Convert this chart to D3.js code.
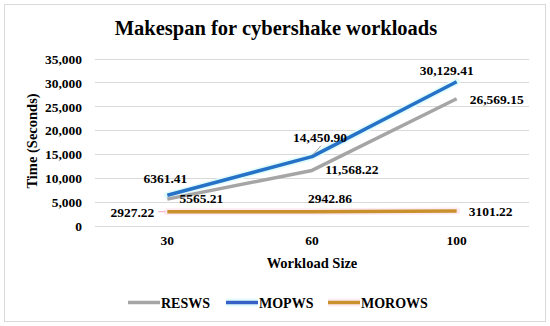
<!DOCTYPE html>
<html>
<head>
<meta charset="utf-8">
<script src="https://cdn.jsdelivr.net/npm/d3@7"></script>
<style>
  body { margin: 0; background: #fff; }
  svg text { font-family: "Liberation Serif", "Times New Roman", serif; font-weight: bold; fill: #000; }
</style>
</head>
<body>
<div id="chart"></div>
<script>
// data
var workloads = ["30", "60", "100"];
var seriesNames = ["RESWS", "MOPWS", "MOROWS"];
var resws = [5565.21, 11568.22, 26569.15];
var mopws = [6361.41, 14450.90, 30129.41];
var morows = [2927.22, 2942.86, 3101.22];
var yTicks = [0, 5000, 10000, 15000, 20000, 25000, 30000, 35000];

var W = 550, H = 326;
var plot = {left: 95, right: 529, top: 58.5, bottom: 225.7};

// colours and where each data label sits relative to its point (dx, dy)
var colors = ["#a5a5a5", "#2672c6", "#c8912c"];
var glows = [null, "#e2fcfc", "#fdeaf3"];
var labelOffsets = [
  [[34, 4], [40, 4], [40, 5]],
  [[-2, -12], [8, -15], [-10, -7]],
  [[-35, 5], [18, -9], [34, 5]]
];

var seriesData = [resws, mopws, morows];

var svg = d3.select("#chart").append("svg")
    .attr("width", W)
    .attr("height", H);

svg.append("rect")
    .attr("x", 4.5).attr("y", 4.5)
    .attr("width", 541).attr("height", 317)
    .attr("fill", "#fff")
    .attr("stroke", "#d9d9d9");

var x = d3.scaleBand()
    .domain(workloads)
    .range([plot.left, plot.right]);

var y = d3.scaleLinear()
    .domain([0, 35000])
    .range([plot.bottom, plot.top]);

// gridlines
svg.append("g")
  .selectAll("line")
  .data(yTicks)
  .enter().append("line")
    .attr("x1", plot.left).attr("x2", plot.right)
    .attr("y1", d => Math.round(y(d)) + 0.5)
    .attr("y2", d => Math.round(y(d)) + 0.5)
    .attr("stroke", "#d9d9d9");

// y axis labels
var yAxis = svg.append("g")
    .attr("transform", "translate(" + plot.left + ",0)")
    .call(d3.axisLeft(y).tickValues(yTicks).tickFormat(d3.format(",")).tickSize(0).tickPadding(13));
yAxis.attr("font-family", null).attr("font-size", null);
yAxis.select(".domain").remove();
yAxis.selectAll("text")
    .attr("dy", "0.35em")
    .style("font-size", "13.5px");

// x axis labels
var xAxis = svg.append("g")
    .attr("transform", "translate(0," + plot.bottom + ")")
    .call(d3.axisBottom(x).tickSize(0).tickPadding(10));
xAxis.attr("font-family", null).attr("font-size", null);
xAxis.select(".domain").remove();
xAxis.selectAll("text")
    .attr("dy", "0.71em")
    .style("font-size", "13.5px");

// titles
svg.append("text")
    .attr("x", 276).attr("y", 35)
    .attr("text-anchor", "middle")
    .style("font-size", "20.5px")
    .text("Makespan for cybershake workloads");

svg.append("text")
    .attr("x", (plot.left + plot.right) / 2).attr("y", 268)
    .attr("text-anchor", "middle")
    .style("font-size", "14.5px")
    .text("Workload Size");

svg.append("text")
    .attr("transform", "translate(37," + 141 + ") rotate(-90)")
    .attr("text-anchor", "middle")
    .style("font-size", "14.5px")
    .text("Time (Seconds)");

var line = d3.line()
    .x((d, i) => x(workloads[i]) + x.bandwidth() / 2)
    .y(d => y(d));

// lines, with the faint glow the original has
seriesData.forEach(function(vals, s) {
  if (glows[s]) {
    svg.append("path")
        .datum(vals)
        .attr("d", line)
        .attr("fill", "none")
        .attr("stroke", glows[s])
        .attr("stroke-width", 7)
        .attr("stroke-linecap", "round");
  }
});
seriesData.forEach(function(vals, s) {
  svg.append("path")
      .datum(vals)
      .attr("d", line)
      .attr("fill", "none")
      .attr("stroke", colors[s])
      .attr("stroke-width", 3.5)
      .attr("stroke-linejoin", "round");
});

// leader lines seen in the picture
var px = i => x(workloads[i]) + x.bandwidth() / 2;
svg.append("line")
    .attr("x1", px(1) + 1).attr("y1", y(mopws[1]) - 2)
    .attr("x2", px(1) + 9).attr("y2", y(mopws[1]) - 11)
    .attr("stroke", "#a5a5a5").attr("stroke-width", 1);
svg.append("line")
    .attr("x1", px(0) - 9).attr("y1", y(morows[0]))
    .attr("x2", px(0) - 2).attr("y2", y(morows[0]))
    .attr("stroke", "#f4a6c6").attr("stroke-width", 1);

// data labels
var fmt = v => v >= 10000 ? d3.format(",.2f")(v) : d3.format(".2f")(v);
seriesData.forEach(function(vals, s) {
  svg.append("g")
    .selectAll("text")
    .data(vals)
    .enter().append("text")
      .attr("x", (d, i) => px(i) + labelOffsets[s][i][0])
      .attr("y", (d, i) => y(d) + labelOffsets[s][i][1])
      .attr("text-anchor", "middle")
      .style("font-size", "13.5px")
      .text(fmt);
});

// legend
var legendX = [128, 226, 328];
var legend = svg.append("g");
seriesNames.forEach(function(name, s) {
  if (glows[s]) {
    legend.append("line")
        .attr("x1", legendX[s]).attr("x2", legendX[s] + 32)
        .attr("y1", 302.5).attr("y2", 302.5)
        .attr("stroke", glows[s]).attr("stroke-width", 8);
  }
  legend.append("line")
      .attr("x1", legendX[s]).attr("x2", legendX[s] + 32)
      .attr("y1", 302.5).attr("y2", 302.5)
      .attr("stroke", s === 1 ? "#3560c8" : colors[s]).attr("stroke-width", 3.5);
  legend.append("text")
      .attr("x", legendX[s] + 33).attr("y", 307.5)
      .style("font-size", "14px")
      .text(name);
});
</script>
</body>
</html>
